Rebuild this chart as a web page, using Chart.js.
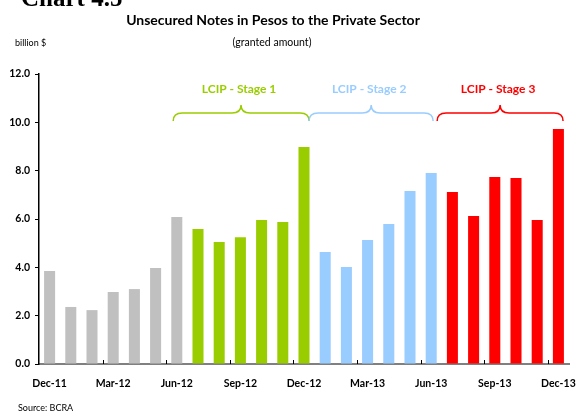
<!DOCTYPE html>
<html>
<head>
<meta charset="utf-8">
<script src="https://cdn.jsdelivr.net/npm/chart.js@4.4.1/dist/chart.umd.min.js"></script>
<style>
  html, body { margin: 0; padding: 0; background: #fff; }
  #wrap { width: 579px; height: 413px; position: relative; }
</style>
</head>
<body>
<div id="wrap"><canvas id="c" width="579" height="413"></canvas></div>
<script>
// Monthly categories, Dec-11 to Dec-13
const months = ['Dec-11','Jan-12','Feb-12','Mar-12','Apr-12','May-12','Jun-12',
  'Jul-12','Aug-12','Sep-12','Oct-12','Nov-12','Dec-12',
  'Jan-13','Feb-13','Mar-13','Apr-13','May-13','Jun-13',
  'Jul-13','Aug-13','Sep-13','Oct-13','Nov-13','Dec-13'];

// Granted amount, billion $
const granted = [3.85, 2.36, 2.23, 2.98, 3.10, 3.97, 6.08,
  5.59, 5.05, 5.25, 5.96, 5.88, 8.98,
  4.63, 4.01, 5.13, 5.79, 7.16, 7.90,
  7.12, 6.12, 7.74, 7.70, 5.96, 9.72];

// Programme phase of each month: 0 = before, 1..3 = LCIP stages
const phase = [0,0,0,0,0,0,0, 1,1,1,1,1,1, 2,2,2,2,2,2, 3,3,3,3,3,3];

const phaseColors = ['#C0C0C0', '#9ACD00', '#99CCFF', '#FF0000'];
const stageNames = ['LCIP - Stage 1', 'LCIP - Stage 2', 'LCIP - Stage 3'];

const FONT = 'Lato, "Open Sans", sans-serif';

// Braces over each stage, in category units: [left, peak, right]
const braceSpans = [[5.83, 9.03, 12.24], [12.24, 15.17, 18.09], [18.28, 21.25, 24.22]];

const decorations = {
  id: 'decorations',
  afterDraw(chart) {
    const ctx = chart.ctx;
    const x = chart.scales.x, y = chart.scales.y;
    ctx.save();

    // headings
    ctx.fillStyle = '#000';
    ctx.textBaseline = 'alphabetic';
    ctx.textAlign = 'left';
    ctx.font = 'bold 25px "Liberation Serif", serif';
    ctx.fillText('Chart 4.5', 21, 6);

    ctx.textAlign = 'center';
    ctx.textBaseline = 'middle';
    ctx.font = 'bold 14px ' + FONT;
    ctx.fillText('Unsecured Notes in Pesos to the Private Sector', 273, 20);
    ctx.font = '10.5px ' + FONT;
    ctx.fillText('(granted amount)', 272, 43);
    ctx.textAlign = 'left';
    ctx.font = '9px ' + FONT;
    ctx.fillText('billion $', 15, 43);
    ctx.fillText('Source: BCRA', 18, 408);

    // small inner ticks on the x axis every quarter
    ctx.strokeStyle = '#000';
    ctx.lineWidth = 1;
    for (let i = 3; i < months.length; i += 3) {
      const px = Math.round((x.getPixelForValue(i - 1) + x.getPixelForValue(i)) / 2) + 0.5;
      ctx.beginPath();
      ctx.moveTo(px, y.bottom);
      ctx.lineTo(px, y.bottom - 4);
      ctx.stroke();
    }

    // stage braces and labels
    const yMid = y.getPixelForValue(10.39);
    const yTop = yMid - 8, yEnd = yMid + 8;
    const r = 9;
    braceSpans.forEach((s, k) => {
      const L = x.getPixelForValue(s[0]);
      const P = x.getPixelForValue(s[1]);
      const R = x.getPixelForValue(s[2]);
      ctx.strokeStyle = phaseColors[k + 1];
      ctx.lineWidth = 1.5;
      ctx.beginPath();
      ctx.moveTo(L, yEnd);
      ctx.quadraticCurveTo(L, yMid, L + r, yMid);
      ctx.lineTo(P - r, yMid);
      ctx.quadraticCurveTo(P, yMid, P, yTop);
      ctx.quadraticCurveTo(P, yMid, P + r, yMid);
      ctx.lineTo(R - r, yMid);
      ctx.quadraticCurveTo(R, yMid, R, yEnd);
      ctx.stroke();

      ctx.fillStyle = phaseColors[k + 1];
      ctx.font = 'bold 12px ' + FONT;
      ctx.textAlign = 'center';
      ctx.textBaseline = 'middle';
      ctx.fillText(stageNames[k], P - 2, yTop - 16);
    });
    ctx.restore();
  }
};

new Chart(document.getElementById('c'), {
  type: 'bar',
  data: {
    labels: months,
    datasets: [{
      data: granted,
      backgroundColor: phase.map(p => phaseColors[p]),
      borderWidth: 0,
      categoryPercentage: 1,
      barPercentage: 0.52
    }]
  },
  options: {
    responsive: false,
    animation: false,
    devicePixelRatio: 1,
    layout: { padding: { top: 74, right: 10, left: 0, bottom: 0 } },
    plugins: { legend: { display: false }, tooltip: { enabled: false } },
    scales: {
      x: {
        offset: true,
        grid: { display: false, drawTicks: false },
        border: { display: true, color: '#808080', width: 2 },
        ticks: {
          autoSkip: false,
          maxRotation: 0,
          padding: 13,
          color: '#000',
          font: { family: FONT, size: 10.5, weight: 'bold' },
          callback: (v, i) => (i % 3 === 0 ? months[i] : '')
        },
        afterFit: s => { s.height = 49; s.paddingLeft = 0; s.paddingRight = 0; }
      },
      y: {
        min: 0, max: 12,
        grid: { drawOnChartArea: false, tickLength: 4, color: '#000' },
        border: { display: true, color: '#000', width: 1.5 },
        ticks: {
          stepSize: 2,
          padding: 5,
          color: '#000',
          font: { family: FONT, size: 10.5, weight: 'bold' },
          callback: v => Number(v).toFixed(1)
        },
        afterFit: s => { s.width = 39; }
      }
    }
  },
  plugins: [decorations]
});
</script>
</body>
</html>
